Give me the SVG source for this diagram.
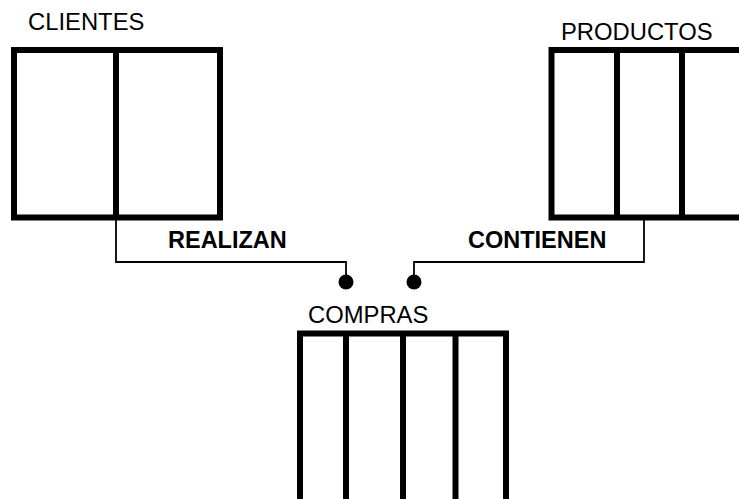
<svg xmlns="http://www.w3.org/2000/svg" width="739" height="499" viewBox="0 0 739 499">
  <style>
    .tbl { fill: #fff; stroke: #000; stroke-width: 6; }
    .col { stroke: #000; stroke-width: 6; fill: none; }
    .name { font-family: "Liberation Sans", Arial, sans-serif; font-size: 23.8px; fill: #000; }
    .rel { font-family: "Liberation Sans", Arial, sans-serif; font-size: 23.5px; font-weight: bold; fill: #000; }
    .link { stroke: #000; stroke-width: 1.8; fill: none; }
  </style>
  <rect width="739" height="499" fill="#fff"/>

  <!-- relationship lines with end dots -->
  <g id="connectors">
    <path class="link" d="M116,220 V262 H346 V282"/>
    <circle cx="346" cy="282" r="7.5" fill="#000"/>
    <path class="link" d="M644,220 V262 H414 V282"/>
    <circle cx="414" cy="282" r="7.5" fill="#000"/>
    <text class="rel" x="168" y="248">REALIZAN</text>
    <text class="rel" x="468" y="248">CONTIENEN</text>
  </g>

  <!-- CLIENTES: two columns -->
  <g id="clientes">
    <text class="name" x="28" y="30">CLIENTES</text>
    <rect class="tbl" x="14" y="50" width="206" height="167.5"/>
    <line class="col" x1="116" y1="50" x2="116" y2="217.5"/>
  </g>

  <!-- PRODUCTOS: runs off the right edge -->
  <g id="productos">
    <text class="name" x="561" y="40">PRODUCTOS</text>
    <rect class="tbl" x="551.5" y="50" width="200" height="167.5"/>
    <line class="col" x1="617" y1="50" x2="617" y2="217.5"/>
    <line class="col" x1="682" y1="50" x2="682" y2="217.5"/>
  </g>

  <!-- COMPRAS: four columns, runs off the bottom edge -->
  <g id="compras">
    <text class="name" x="308" y="323">COMPRAS</text>
    <rect class="tbl" x="300" y="333.5" width="206" height="200"/>
    <line class="col" x1="346" y1="333.5" x2="346" y2="499"/>
    <line class="col" x1="403" y1="333.5" x2="403" y2="499"/>
    <line class="col" x1="455.5" y1="333.5" x2="455.5" y2="499"/>
  </g>
</svg>
